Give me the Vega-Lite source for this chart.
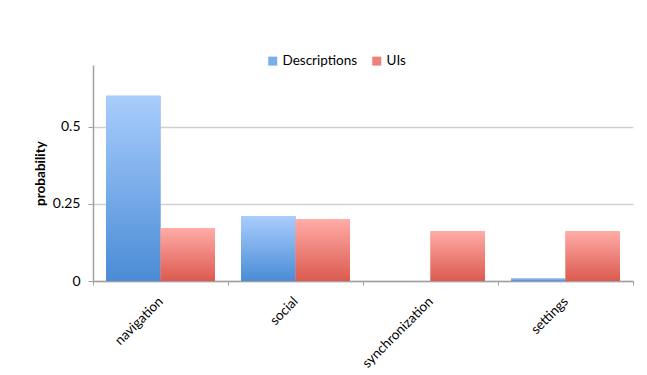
{
  "$schema": "https://vega.github.io/schema/vega-lite/v6.json",
  "width": 540,
  "height": 216,
  "autosize": {"type": "none"},
  "padding": {"left": 93, "top": 65, "right": 14, "bottom": 94},
  "background": "white",
  "data": {
    "values": [
      {"category": "navigation", "source": "Descriptions", "probability": 0.600},
      {"category": "navigation", "source": "UIs", "probability": 0.172},
      {"category": "social", "source": "Descriptions", "probability": 0.211},
      {"category": "social", "source": "UIs", "probability": 0.201},
      {"category": "synchronization", "source": "Descriptions", "probability": 0},
      {"category": "synchronization", "source": "UIs", "probability": 0.162},
      {"category": "settings", "source": "Descriptions", "probability": 0.009},
      {"category": "settings", "source": "UIs", "probability": 0.162}
    ]
  },
  "encoding": {
    "x": {
      "field": "category",
      "type": "nominal",
      "sort": ["navigation", "social", "synchronization", "settings"],
      "scale": {"paddingInner": 0, "paddingOuter": 0},
      "axis": {
        "title": null,
        "labelAngle": -45,
        "labelAlign": "right",
        "labelBaseline": "middle",
        "labelPadding": 14,
        "tickBand": "extent",
        "tickSize": 4,
        "tickColor": "#a0a0a0",
        "domainColor": "#a0a0a0",
        "domainWidth": 1.5,
        "labelFont": "Lato",
        "labelFontSize": 13.5,
        "labelColor": "#000000",
        "grid": false
      }
    },
    "xOffset": {
      "field": "source",
      "type": "nominal",
      "scale": {"paddingInner": 0, "paddingOuter": 0.239}
    },
    "y": {
      "field": "probability",
      "type": "quantitative",
      "scale": {"domain": [0, 0.7], "nice": false},
      "axis": {
        "title": "probability",
        "titleFont": "Lato",
        "titleFontSize": 13.5,
        "titleFontWeight": "bold",
        "titleColor": "#000000",
        "titlePadding": 5,
        "values": [0, 0.25, 0.5],
        "format": ".2~f",
        "labelFont": "Lato",
        "labelFontSize": 14,
        "labelColor": "#000000",
        "labelPadding": 8,
        "tickSize": 5,
        "tickColor": "#a0a0a0",
        "domainColor": "#a0a0a0",
        "domainWidth": 1.5,
        "grid": true,
        "gridColor": "#d0d0d0",
        "gridWidth": 1.5
      }
    }
  },
  "layer": [
    {
      "mark": {"type": "bar"},
      "encoding": {
        "color": {
          "field": "source",
          "type": "nominal",
          "scale": {"domain": ["Descriptions", "UIs"], "range": ["#7aaeea", "#ee8179"]},
          "legend": {
            "title": null,
            "orient": "none",
            "direction": "horizontal",
            "legendX": 173,
            "legendY": -11,
            "symbolType": "square",
            "symbolSize": 81,
            "symbolStrokeWidth": 0,
            "symbolOpacity": 1,
            "labelFont": "Lato",
            "labelFontSize": 13.5,
            "labelColor": "#000000",
            "labelOffset": 3,
            "columnPadding": 12
          }
        }
      }
    },
    {
      "mark": {"type": "bar"},
      "encoding": {
        "color": {
          "condition": {
            "test": "datum.source === 'UIs'",
            "value": {"gradient": "linear", "x1": 0, "y1": 0, "x2": 0, "y2": 1,
              "stops": [{"offset": 0, "color": "#ffaca7"}, {"offset": 1, "color": "#dc5a4f"}]}
          },
          "value": {"gradient": "linear", "x1": 0, "y1": 0, "x2": 0, "y2": 1,
            "stops": [{"offset": 0, "color": "#a9cdfd"}, {"offset": 1, "color": "#4a8cd6"}]}
        }
      }
    }
  ],
  "config": {
    "view": {"stroke": null},
    "font": "Lato"
  }
}
